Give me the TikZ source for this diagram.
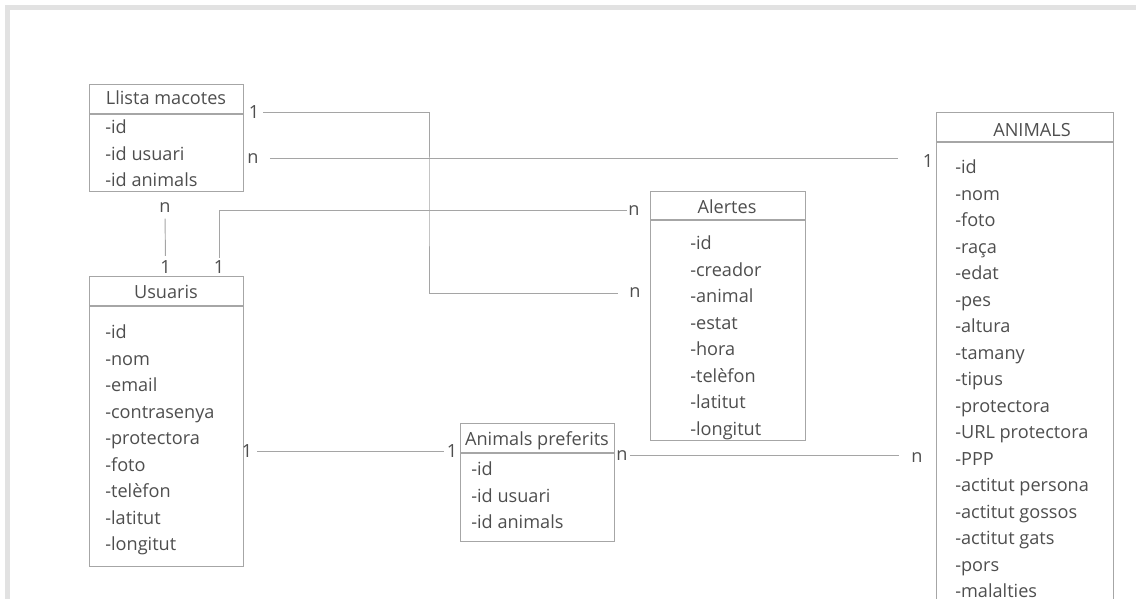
\documentclass[tikz,border=0pt]{standalone}
\usepackage{fontspec}
\setmainfont{Open Sans}
\usetikzlibrary{positioning}
\definecolor{txtc}{RGB}{78,78,78}
\definecolor{boxc}{RGB}{166,166,166}
\definecolor{lnkc}{RGB}{165,165,165}
\definecolor{frmc}{RGB}{226,226,226}
\newcommand{\px}{0.75pt}
\tikzset{
  ent/.style 2 args={rectangle,draw=boxc,line width=0.8pt,
    minimum width=#1*\px,minimum height=#2*\px,anchor=north west,inner sep=0pt},
  ttl/.style={font=\fontsize{13.6}{16}\selectfont,text=txtc,anchor=base,inner sep=0pt},
  attrs/.style={font=\fontsize{13.6}{19.875}\selectfont,text=txtc,align=left,
    anchor=north west,inner sep=0pt},
  card/.style={font=\fontsize{13.6}{16}\selectfont,text=txtc,inner sep=0pt},
  lnk/.style={draw=lnkc,line width=0.7pt},
}

\begin{document}
\begin{tikzpicture}[x=0.75pt,y=-0.75pt]
        \clip (0,0) rectangle (1136,599);
        \draw[frmc,line width=5*\px] (7.5,599) -- (7.5,7.5) -- (1136,7.5);
        % entities
        \node[ent={154}{29}] (lmh) at (89,84) {};
        \node[ent={154}{77}] (lm) at (lmh.south west) {};
        \node[ttl] (lmt) at (166,105) {Llista macotes};
        \node[attrs] (lma) at (105,119.5) {-id\\-id usuari\\-id animals};
        \node[ent={154}{29}] (ush) at (89,276) {};
        \node[ent={154}{260}] (us) at (ush.south west) {};
        \node[ttl] (ust) at (166,299) {Usuaris};
        \node[attrs] (usa) at (105,324.5) {-id\\-nom\\-email\\-contrasenya\\-protectora\\-foto\\-telèfon\\-latitut\\-longitut};
        \node[ent={155}{28}] (alh) at (650,191) {};
        \node[ent={155}{220}] (al) at (alh.south west) {};
        \node[ttl] (alt) at (727,214) {Alertes};
        \node[attrs] (ala) at (690,235.5) {-id\\-creador\\-animal\\-estat\\-hora\\-telèfon\\-latitut\\-longitut};
        \node[ent={154}{29}] (aph) at (460,423) {};
        \node[ent={154}{88}] (ap) at (aph.south west) {};
        \node[ttl] (apt) at (537,445) {Animals preferits};
        \node[attrs] (apa) at (471,461.5) {-id\\-id usuari\\-id animals};
        \node[ent={177}{29}] (anh) at (936,112) {};
        \node[ent={177}{480}] (an) at (anh.south west) {};
        \node[ttl] (ant) at (1032,137) {ANIMALS};
        \node[attrs] (ana) at (955,159.5) {-id\\-nom\\-foto\\-raça\\-edat\\-pes\\-altura\\-tamany\\-tipus\\-protectora\\-URL protectora\\-PPP\\-actitut persona\\-actitut gossos\\-actitut gats\\-pors\\-malalties};
        % cardinalities
        \node[card] (lm1) at (254,112.5) {1};
        \node[card] (lmn) at (253,158.5) {n};
        \node[card] (lmn2) at (165,207.5) {n};
        \node[card] (us1a) at (165.5,267.5) {1};
        \node[card] (us1b) at (219,267.5) {1};
        \node[card] (al1n) at (634,210.5) {n};
        \node[card] (al2n) at (635,293) {n};
        \node[card] (an1) at (928,161.5) {1};
        \node[card] (us1c) at (247,451.5) {1};
        \node[card] (ap1) at (452,451.5) {1};
        \node[card] (apn) at (622,455.5) {n};
        \node[card] (ann) at (917,457.5) {n};
        \coordinate (j1) at (429,200);
        % links
        \draw[lnk,shorten <=4*\px,shorten >=11*\px] (lm1.east) -| (j1) |- (al2n.west);
        \draw[lnk,shorten <=11*\px,shorten >=25*\px] (lmn.east) -- (lmn.east -| an1.west);
        \draw[lnk,shorten <=3*\px,shorten >=1*\px] (us1b.north) |- (al1n.west);
        \draw[lnk,shorten <=6*\px,shorten >=5*\px] (lmn2.south) -- (us1a.north);
        \draw[lnk,shorten <=5*\px,shorten >=3*\px] (us1c.east) -- (ap1.west);
        \draw[lnk,shorten <=2*\px,shorten >=12*\px] (apn.east) -- (apn.east -| ann.west);
      \end{tikzpicture}
\end{document}
